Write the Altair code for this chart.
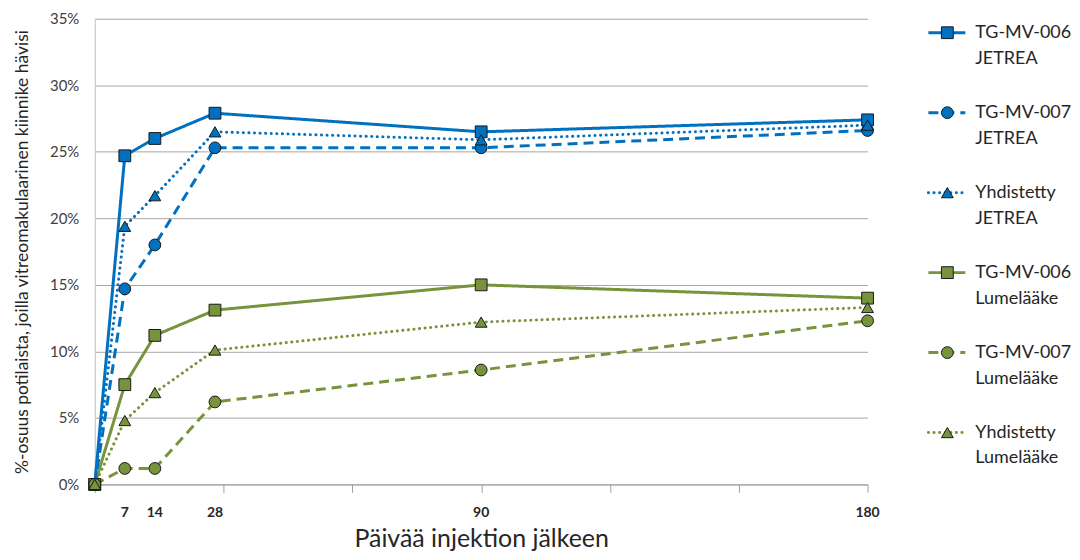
import altair as alt
import pandas as pd

# ---- data ----
days = [0, 7, 14, 28, 90, 180]
day_labels = [7, 14, 28, 90, 180]
tick_days = [0, 30, 60, 90, 120, 150, 180]
y_ticks = [0, 5, 10, 15, 20, 25, 30, 35]

tg006_jetrea = [0, 24.7, 26.0, 27.9, 26.5, 27.4]
tg007_jetrea = [0, 14.7, 18.0, 25.3, 25.3, 26.6]
yhd_jetrea = [0, 19.4, 21.7, 26.5, 25.9, 27.0]
tg006_lume = [0, 7.5, 11.2, 13.1, 15.0, 14.0]
tg007_lume = [0, 1.2, 1.2, 6.2, 8.6, 12.3]
yhd_lume = [0, 4.8, 6.9, 10.1, 12.2, 13.3]

studies = ["TG-MV-006", "TG-MV-007", "Yhdistetty", "TG-MV-006", "TG-MV-007", "Yhdistetty"]
groups = ["JETREA", "JETREA", "JETREA", "Lumelääke", "Lumelääke", "Lumelääke"]
series_values = [tg006_jetrea, tg007_jetrea, yhd_jetrea, tg006_lume, tg007_lume, yhd_lume]

BLUE = "#0070C0"
GREEN = "#77933C"
FONT = "Lato"

rows = []
leg_rows = []
for i, (st, gr, vals) in enumerate(zip(studies, groups, series_values)):
    key = f"{st} {gr}"
    leg_rows.append({"key": key, "study": st, "group": gr, "line1": st, "line2": gr, "order": i})
    for d, v in zip(days, vals):
        rows.append({"key": key, "study": st, "group": gr, "day": d, "value": v, "order": i})
df = pd.DataFrame(rows)
leg = pd.DataFrame(leg_rows)
keys = list(leg["key"])

color_scale = alt.Scale(domain=["JETREA", "Lumelääke"], range=[BLUE, GREEN])
shape_scale = alt.Scale(domain=["TG-MV-006", "TG-MV-007", "Yhdistetty"],
                        range=["square", "circle", "triangle-up"])

W, H = 775, 467

x_enc = alt.X("day:Q", scale=alt.Scale(domain=[0, 180], nice=False, zero=False),
              axis=alt.Axis(values=tick_days, labels=False, ticks=True, tickSize=8,
                            tickColor="#a0a0a0", domainColor="#a0a0a0", grid=False,
                            title="Päivää injektion jälkeen", titleFont=FONT,
                            titleFontSize=25, titleFontWeight="normal",
                            titleColor="#262626", titlePadding=34))
y_enc = alt.Y("value:Q", scale=alt.Scale(domain=[0, 35], nice=False),
              axis=alt.Axis(values=y_ticks, labelExpr="datum.value + '%'", ticks=False,
                            grid=True, gridColor="#a6a6a6", domainColor="#c0c0c0",
                            labelFont=FONT, labelFontSize=15, labelColor="#404040",
                            labelPadding=16,
                            title="%-osuus potilaista, joilla vitreomakulaarinen kiinnike hävisi",
                            titleFont=FONT, titleFontSize=17.5, titleFontWeight="normal",
                            titleColor="#262626", titlePadding=18))

base = alt.Chart(df)
styles = {
    "TG-MV-006": dict(strokeDash=[1, 0], strokeCap="butt"),
    "TG-MV-007": dict(strokeDash=[10, 6], strokeCap="butt"),
    "Yhdistetty": dict(strokeDash=[0.1, 5.5], strokeCap="round"),
}

layers = []
for st, sty in styles.items():
    layers.append(
        base.transform_filter(alt.datum.study == st)
        .mark_line(strokeWidth=3, **sty)
        .encode(x=x_enc, y=y_enc,
                color=alt.Color("group:N", scale=color_scale, legend=None),
                detail="key:N")
    )

points = base.mark_point(filled=True, size=140, stroke="#1a1a1a", strokeWidth=1, opacity=1).encode(
    x="day:Q", y="value:Q",
    fill=alt.Fill("group:N", scale=color_scale, legend=None),
    shape=alt.Shape("study:N", scale=shape_scale, legend=None),
    order=alt.Order("order:Q"),
)

xlabels = alt.Chart(pd.DataFrame({"day": day_labels})).mark_text(
    font=FONT, fontSize=14, fontWeight="bold", color="#262626", baseline="middle"
).encode(x="day:Q", y=alt.value(H + 29), text="day:Q")

main = alt.layer(*layers, points, xlabels).properties(width=W, height=H)

# ---- custom legend ----
ly = alt.Y("key:N", scale=alt.Scale(type="point", domain=keys, range=[14, 415], padding=0), axis=None)
lbase = alt.Chart(leg)
leg_layers = []
for st, sty in styles.items():
    leg_layers.append(
        lbase.transform_filter(alt.datum.study == st)
        .mark_rule(strokeWidth=3, **sty)
        .encode(x=alt.value(0), x2=alt.value(37), y=ly,
                color=alt.Color("group:N", scale=color_scale, legend=None))
    )
leg_points = lbase.mark_point(filled=True, size=140, stroke="#1a1a1a", strokeWidth=1, opacity=1).encode(
    x=alt.value(19), y=ly,
    fill=alt.Fill("group:N", scale=color_scale, legend=None),
    shape=alt.Shape("study:N", scale=shape_scale, legend=None),
)
t1 = lbase.mark_text(align="left", baseline="middle", font=FONT, fontSize=18, color="#262626").encode(
    x=alt.value(47), y=ly, text="line1:N")
t2 = lbase.mark_text(align="left", baseline="middle", font=FONT, fontSize=18, color="#262626", dy=26).encode(
    x=alt.value(47), y=ly, text="line2:N")
legend = alt.layer(*leg_layers, leg_points, t1, t2).properties(width=90, height=H)

chart = alt.hconcat(main, legend, spacing=46).configure_view(stroke=None).properties(
    padding={"top": 3, "left": 5, "right": 0, "bottom": 0})

chart.save("out.html", embed_options={"renderer": "svg", "actions": False})
